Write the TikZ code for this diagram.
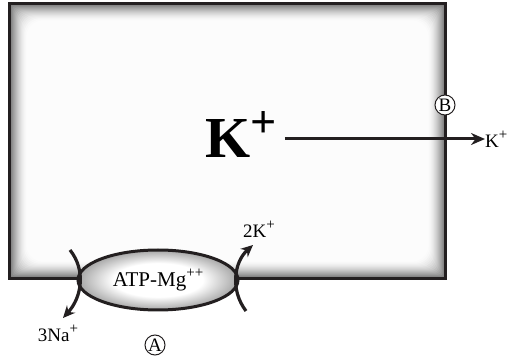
\documentclass[tikz,border=0pt]{standalone}
\usepackage{fontspec}
\setmainfont{Liberation Serif}
\usetikzlibrary{positioning, arrows.meta, shapes.geometric, calc}
\definecolor{wallline}{RGB}{35,31,32}
\pgfdeclareradialshading{pumpglow}{\pgfpoint{0bp}{0bp}}{%
  color(0bp)=(white); color(14bp)=(white); color(25bp)=(black!35); color(50bp)=(black!35)}
\newcommand{\chargeup}[1]{\raisebox{0.42em}{\fontsize{15}{15}\selectfont #1}}
\tikzset{
  cellbox/.style={
    rectangle, inner sep=0pt,
    minimum width=436pt, minimum height=275pt
  },
  pumpbox/.style={
    ellipse, draw=wallline, line width=3pt,
    shading=pumpglow,
    minimum width=160pt, minimum height=60pt,
    font=\fontsize{21}{23}\selectfont, inner sep=0pt
  },
  ionlabel/.style={font=\fontsize{19}{21}\selectfont, inner sep=1pt},
  bigion/.style={font=\bfseries\fontsize{58}{60}\selectfont, inner sep=0pt},
  siteball/.style={
    circle, draw=wallline, line width=1pt, fill=white,
    minimum size=20pt, inner sep=0pt, font=\fontsize{19}{20}\selectfont
  },
  ionarrow/.style={-{Stealth[length=12pt, width=11pt]}, draw=wallline, line width=3.2pt},
  fluxarrow/.style={-{Stealth[length=14pt, width=12pt]}, draw=wallline, line width=3pt}
}
\begin{document}
\begin{tikzpicture}[x=1pt, y=-1pt]
  \useasboundingbox (0,0) rectangle (507,358);
  \node[cellbox] (cell) at (227.5,141) {};
  % inner shadow of the cell wall
  \foreach \i in {0,...,17} {
    \pgfmathsetmacro\tone{int(round(55*(1-\i/18)^1.6))}
    \fill[black!\tone!white, rounded corners=\i pt]
      ($(cell.north west)+(\i,\i)$) rectangle ($(cell.south east)+(-\i,-\i)$);
  }
  \draw[wallline, line width=3.2pt] (cell.north west) rectangle (cell.south east);

  \node[pumpbox] (pump) at (158,280) {ATP-Mg\chargeup{++}};
  \node[bigion] (kin) at (241,135)
    {K{\fontsize{46}{46}\selectfont\raisebox{20pt}{+}}};
  \node[ionlabel, anchor=west, inner sep=0pt] (kout) at (485,139) {K\chargeup{+}};
  \node[siteball] (siteB) at (445,105) {B};
  \node[siteball] (siteA) at (155,345) {A};
  \node[ionlabel] (na) at (58,333) {3Na\chargeup{+}};
  \node[ionlabel] (kk) at (259,229) {2K\chargeup{+}};

  \coordinate (natop) at (70,250);
  \coordinate (natip) at (63,318);
  \coordinate (kbot) at (246,311);
  \coordinate (ktip) at (253,245);

  \draw[fluxarrow, shorten <=8pt] (kin.east |- kout) -- (kout.west);
  \draw[ionarrow] (natop) .. controls (86,270) and (82,297) .. (natip);
  \draw[ionarrow] (kbot) .. controls (230,290) and (234,262) .. (ktip);
\end{tikzpicture}
\end{document}
